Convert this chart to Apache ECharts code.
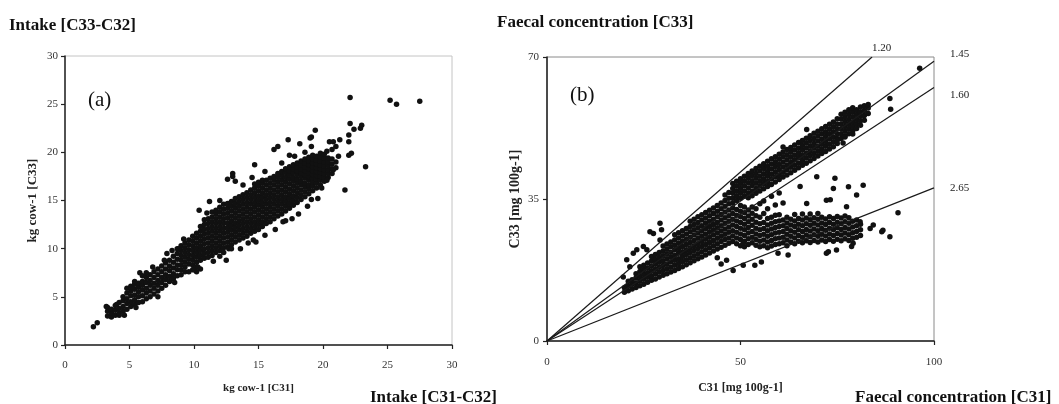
<!DOCTYPE html>
<html>
<head>
<meta charset="utf-8">
<script src="https://cdn.jsdelivr.net/npm/echarts@6/dist/echarts.min.js"></script>
<style>
html,body{margin:0;padding:0;background:#fff;}
#c{width:1059px;height:404px;}
</style>
</head>
<body>
<div id="c"></div>
<script>
// ---------- Panel (a): Intake, kg cow-1, C31 (x) vs C33 (y) ----------
const intakeTicks = [0, 5, 10, 15, 20, 25, 30];
// columns: [C31, [C33 values at that C31]]
const intakeCols = [
 [3.3,[3.0,3.5,3.9]],
 [3.6,[2.9,3.3,3.7]],
 [3.9,[3.1,3.6,4.1]],
 [4.2,[3.1,3.3,3.8,4.4]],
 [4.5,[3.5,4.0,4.6,5.0]],
 [4.8,[3.7,4.3,4.8,5.4,5.9]],
 [5.1,[4.0,4.5,5.1,5.6,6.1]],
 [5.4,[4.2,4.7,5.2,5.8,6.3]],
 [5.7,[4.4,5.0,5.5,6.0,6.4]],
 [6.0,[4.5,5.1,5.7,6.2,6.6]],
 [6.3,[4.8,5.4,5.9,6.5,7.0]],
 [6.6,[5.0,5.6,6.2,6.7,7.3]],
 [6.9,[5.3,5.9,6.4,7.0,7.6]],
 [7.2,[5.6,6.2,6.7,7.3,7.9]],
 [7.5,[5.9,6.5,7.0,7.6,8.2]],
 [7.8,[6.2,6.8,7.3,7.9,8.5]],
 [8.1,[6.6,7.1,7.7,8.2,8.8]],
 [8.4,[6.9,7.4,8.0,8.6,9.2]],
 [8.7,[7.2,7.8,8.3,8.9,9.5,10.0]],
 [9.0,[7.3,7.8,8.3,8.8,9.3,9.8,10.3]],
 [9.3,[7.6,8.1,8.6,9.1,9.6,10.1,10.6]],
 [9.6,[7.6,8.4,8.9,9.4,9.9,10.4,10.9]],
 [9.9,[7.8,8.3,8.8,9.3,9.8,10.3,10.8,11.3]],
 [10.2,[7.6,8.1,8.6,9.1,9.6,10.1,10.6,11.1,11.6]],
 [10.5,[7.9,8.8,9.3,9.8,10.3,10.8,11.3,11.8,12.3]],
 [10.8,[9.0,9.5,10.0,10.5,11.0,11.5,12.0,12.5,13.0]],
 [11.1,[9.1,9.6,10.1,10.6,11.1,11.6,12.1,12.6,13.1]],
 [11.4,[9.3,9.8,10.3,10.8,11.3,11.8,12.3,12.8,13.3,13.8]],
 [11.7,[9.6,10.1,10.6,11.1,11.6,12.1,12.6,13.1,13.6,14.0]],
 [12.0,[9.8,10.3,10.8,11.3,11.8,12.3,12.8,13.3,13.8,14.3]],
 [12.3,[9.6,10.1,10.6,11.1,11.6,12.1,12.6,13.1,13.6,14.1,14.6]],
 [12.6,[10.2,10.7,11.2,11.7,12.2,12.7,13.2,13.7,14.2,14.7]],
 [12.9,[10.4,10.9,11.4,11.9,12.4,12.9,13.4,13.9,14.4,14.9]],
 [13.2,[10.7,11.2,11.7,12.2,12.7,13.2,13.7,14.2,14.7,15.2]],
 [13.5,[10.9,11.4,11.9,12.4,12.9,13.4,13.9,14.4,14.9,15.4]],
 [13.8,[11.1,11.6,12.1,12.6,13.1,13.6,14.1,14.6,15.1,15.6]],
 [14.1,[11.3,11.8,12.3,12.8,13.3,13.8,14.3,14.8,15.3,15.8]],
 [14.4,[11.6,12.1,12.6,13.1,13.6,14.1,14.6,15.1,15.6,16.1]],
 [14.7,[11.8,12.3,12.8,13.3,13.8,14.3,14.8,15.3,15.8,16.3,16.7]],
 [15.0,[12.0,12.5,13.0,13.5,14.0,14.5,15.0,15.5,16.0,16.5,16.9]],
 [15.3,[12.3,12.8,13.3,13.8,14.3,14.8,15.3,15.8,16.3,16.8,17.1]],
 [15.6,[12.6,13.1,13.6,14.1,14.6,15.1,15.6,16.1,16.6,17.1]],
 [15.9,[12.8,13.3,13.8,14.3,14.8,15.3,15.8,16.3,16.8,17.3]],
 [16.2,[13.1,13.6,14.1,14.6,15.1,15.6,16.1,16.6,17.1,17.5]],
 [16.5,[13.4,13.9,14.4,14.9,15.4,15.9,16.4,16.9,17.4,17.8]],
 [16.8,[13.6,14.1,14.6,15.1,15.6,16.1,16.6,17.1,17.6,18.0]],
 [17.1,[13.9,14.4,14.9,15.4,15.9,16.4,16.9,17.4,17.9,18.3]],
 [17.4,[14.2,14.7,15.2,15.7,16.2,16.7,17.2,17.7,18.1,18.5]],
 [17.7,[14.5,15.0,15.5,16.0,16.5,17.0,17.4,17.9,18.3,18.7]],
 [18.0,[14.8,15.3,15.8,16.3,16.8,17.2,17.7,18.1,18.5,18.9]],
 [18.3,[15.1,15.6,16.1,16.6,17.0,17.5,17.9,18.3,18.7,19.1]],
 [18.6,[15.4,15.9,16.4,16.8,17.3,17.7,18.1,18.5,18.9,19.3]],
 [18.9,[15.7,16.2,16.6,17.1,17.5,17.9,18.3,18.7,19.1,19.5]],
 [19.2,[16.0,16.5,16.9,17.3,17.7,18.1,18.5,18.9,19.3,19.7]],
 [19.5,[16.3,16.8,17.2,17.6,18.0,18.4,18.8,19.2,19.6]],
 [19.8,[16.6,17.1,17.5,17.9,18.3,18.7,19.1,19.5,19.9]],
 [20.1,[17.0,17.4,17.8,18.2,18.6,19.0,19.4,19.8]],
 [20.4,[17.4,17.8,18.2,18.6,19.0,19.4]],
 [20.7,[17.8,18.3,18.8,19.3]],
 [21.0,[18.4,19.0]]
];
// isolated points
const intakeExtra = [
 [2.2,1.9],[2.5,2.3],[3.2,4.0],[4.0,4.2],[4.6,3.1],[5.5,3.9],[5.2,5.9],[5.4,6.6],[5.8,7.5],
 [6.0,7.2],[6.3,7.5],[7.2,5.0],[6.8,8.1],[7.7,8.8],[7.9,9.5],[8.5,6.5],[8.3,9.8],[8.8,10.0],
 [9.2,11.0],[10.0,7.8],[10.3,8.1],[10.4,14.0],[11.2,14.9],[11.0,13.7],[11.5,8.7],[12.0,9.2],
 [12.0,15.0],[12.5,8.8],[12.7,10.0],[12.9,10.0],[12.6,17.2],[13.0,17.8],[13.0,17.5],
 [13.2,17.0],[13.6,10.0],[13.8,16.6],[14.2,10.6],[14.5,17.4],[14.6,10.9],[14.8,10.7],
 [14.7,18.7],[15.5,11.4],[15.5,18.0],[16.3,12.0],[16.2,20.3],[16.5,20.6],[16.8,18.9],
 [16.9,12.8],[17.1,12.9],[17.3,21.3],[17.4,19.7],[17.6,13.1],[17.8,19.6],[18.1,13.6],
 [18.2,20.9],[18.6,20.0],[18.8,14.4],[19.0,21.5],[19.1,20.6],[19.1,21.6],[19.1,15.1],
 [19.4,22.3],[19.6,15.2],[19.9,16.3],[20.3,17.1],[20.3,20.1],[20.5,21.1],[20.7,20.3],
 [20.8,18.2],[20.8,21.1],[21.0,20.6],[21.2,19.6],[21.3,21.3],[21.7,16.1],[22.0,21.8],
 [22.0,21.1],[22.0,19.7],[22.2,19.9],[22.1,23.0],[22.4,22.4],[22.9,22.5],[23.0,22.8],
 [23.3,18.5],[22.1,25.7],[25.2,25.4],[25.7,25.0],[27.5,25.3]
];

// ---------- Panel (b): Faecal concentration, mg 100g-1, C31 (x) vs C33 (y) ----------
const faecalXTicks = [0, 50, 100];
const faecalYTicks = [0, 35, 70];
const ratioLines = [1.20, 1.45, 1.60, 2.65];
const faecalCols = [
 [20,[12.0,13.1]],
 [21,[12.4,13.6,14.7]],
 [22,[12.8,14.0,15.1]],
 [23,[13.2,14.3,15.5,16.6]],
 [24,[13.6,14.8,15.9,17.1]],
 [25,[14.0,15.2,16.4,17.6,18.7]],
 [26,[14.5,15.7,16.8,18.0,19.2]],
 [27,[15.0,16.1,17.3,18.5,19.7,20.8]],
 [28,[15.3,16.5,17.7,18.9,20.1,21.3]],
 [29,[15.8,17.0,18.2,19.4,20.6,21.8]],
 [30,[16.2,17.4,18.6,19.8,21.0,22.2,23.4]],
 [31,[16.6,17.8,19.0,20.3,21.5,22.7,23.9]],
 [32,[17.0,18.2,19.5,20.7,21.9,23.2,24.4]],
 [33,[17.4,18.7,19.9,21.1,22.4,23.6,24.9,26.2]],
 [34,[17.9,19.1,20.3,21.6,22.8,24.1,25.4,26.7]],
 [35,[18.3,19.6,20.8,22.0,23.3,24.6,25.9,27.2]],
 [36,[18.8,20.0,21.3,22.5,23.8,25.1,26.4,27.7]],
 [37,[19.3,20.5,21.8,23.0,24.3,25.6,26.9,28.2,29.5]],
 [38,[19.8,21.0,22.3,23.5,24.8,26.1,27.4,28.7,30.0]],
 [39,[20.3,21.5,22.8,24.0,25.3,26.6,27.9,29.2,30.6]],
 [40,[20.7,22.0,23.3,24.5,25.8,27.1,28.4,29.8,31.1]],
 [41,[21.2,22.5,23.8,25.1,26.4,27.7,29.0,30.3,31.7]],
 [42,[21.7,23.0,24.3,25.6,26.9,28.2,29.5,30.9,32.2]],
 [43,[22.2,23.5,24.8,26.1,27.4,28.7,30.0,31.4,32.8]],
 [44,[22.7,24.0,25.3,26.6,27.9,29.2,30.6,32.0,33.4]],
 [45,[23.1,24.5,25.8,27.1,28.4,29.8,31.2,32.6,34.0]],
 [46,[23.6,25.0,26.3,27.6,29.0,30.4,31.8,33.2,34.6,36.0]],
 [47,[24.1,25.4,26.8,28.1,29.5,30.9,32.3,33.8,35.2,36.6]],
 [48,[24.5,25.9,27.2,28.6,30.0,31.4,32.8,34.0,35.2,36.4,37.6,38.8]],
 [49,[24.0,25.4,26.8,28.2,29.6,31.0,32.4,34.6,35.8,37.0,38.2,39.4]],
 [50,[23.5,25.0,26.4,27.8,29.2,30.6,32.0,33.4,35.2,36.4,37.6,38.8,40.0]],
 [51,[23.2,24.6,26.0,27.4,28.8,30.2,31.6,33.0,35.7,36.9,38.2,39.4,40.6]],
 [52,[23.8,25.2,26.6,28.0,29.4,30.8,32.3,35.3,36.5,37.7,39.0,40.2,41.3]],
 [53,[24.2,25.6,27.0,28.5,30.0,31.5,33.0,35.8,37.0,38.3,39.5,40.8,41.9]],
 [54,[23.6,25.0,26.4,27.8,29.3,30.9,32.6,36.4,37.6,38.9,40.1,41.3,42.5]],
 [55,[23.2,24.6,26.0,27.4,28.9,30.5,33.8,37.0,38.2,39.4,40.6,41.9,43.1]],
 [56,[23.5,24.9,26.3,27.7,29.2,31.4,34.5,37.5,38.8,40.0,41.2,42.5,43.7]],
 [57,[23.0,24.4,25.8,27.2,28.6,30.2,32.6,38.1,39.3,40.6,41.8,43.0,44.3]],
 [58,[23.4,24.8,26.2,27.6,29.0,30.5,35.7,38.6,39.9,41.1,42.4,43.6,44.9]],
 [59,[23.8,25.2,26.6,28.0,29.4,31.0,33.5,39.2,40.5,41.7,43.0,44.2,45.4]],
 [60,[24.0,25.4,26.8,28.2,29.6,31.1,36.5,39.8,41.0,42.3,43.5,44.8,46.0]],
 [61,[24.2,25.6,27.0,28.4,29.8,34.0,40.4,41.6,42.9,44.1,45.4,46.6]],
 [62,[23.5,24.9,26.3,27.7,29.1,30.5,40.9,42.2,43.4,44.7,45.9,47.2]],
 [63,[24.4,25.8,27.2,28.6,30.0,41.5,42.8,44.0,45.3,46.5,47.7]],
 [64,[24.0,25.4,26.8,28.2,29.6,31.2,42.1,43.3,44.6,45.8,47.1,48.3]],
 [65,[24.6,26.0,27.4,28.8,30.2,42.7,43.9,45.2,46.4,47.6,48.9]],
 [66,[24.2,25.6,27.0,28.4,29.8,31.3,43.3,44.5,45.7,47.0,48.2,49.4]],
 [67,[24.7,26.1,27.5,28.9,30.3,43.8,45.1,46.3,47.6,48.8,50.0]],
 [68,[24.3,25.7,27.1,28.5,29.9,31.3,44.4,45.7,46.9,48.1,49.4,50.6]],
 [69,[24.8,26.2,27.6,29.0,30.4,45.0,46.2,47.5,48.7,49.9,51.2]],
 [70,[24.4,25.8,27.2,28.6,30.0,31.4,45.6,46.8,48.0,49.3,50.5,51.7]],
 [71,[24.9,26.3,27.7,29.1,30.5,46.2,47.4,48.6,49.8,51.1,52.3]],
 [72,[24.5,25.9,27.3,28.7,30.1,46.7,48.0,49.2,50.4,51.6,52.9]],
 [73,[25.0,26.4,27.8,29.2,30.6,47.3,48.5,49.8,51.0,52.2,53.4]],
 [74,[24.6,26.0,27.4,28.8,30.2,47.9,49.1,50.3,51.6,52.8,54.0]],
 [75,[25.1,26.5,27.9,29.3,30.7,48.7,49.9,51.1,52.3,53.5,54.8]],
 [76,[24.7,26.1,27.5,28.9,30.3,49.9,51.1,52.3,53.5,54.7,55.9]],
 [77,[25.2,26.6,28.0,29.4,30.8,50.5,51.7,52.9,54.1,55.3,56.4]],
 [78,[24.8,26.2,27.6,29.0,30.4,51.1,52.3,53.4,54.6,55.8,57.0]],
 [79,[25.3,26.7,28.1,29.5,51.8,52.9,54.0,55.2,56.4,57.5]],
 [80,[25.6,27.0,28.4,29.8,52.4,53.5,54.6,55.8,57.0]],
 [81,[26.0,27.4,28.8,53.2,54.3,55.4,56.5,57.7]],
 [82,[54.4,55.6,56.8,58.0]],
 [83,[56.1,57.4,58.3]]
];
const faecalExtra = [
 [20.6,20.0],[22.3,21.6],[23.2,22.5],[24.9,23.3],[26.6,26.9],[27.5,26.5],[29.2,29.0],
 [29.6,27.4],[29.2,24.9],[25.8,22.5],[21.4,18.3],[24.0,18.3],[19.7,15.8],[20.6,13.4],
 [44.0,20.5],[45.0,19.0],[46.4,19.9],[48.1,17.4],[50.7,18.7],[53.7,18.7],[55.4,19.5],
 [59.7,21.6],[62.3,21.2],[72.2,21.6],[74.8,22.4],[78.7,23.3],[50.7,24.1],[72.7,22.0],
 [79.1,24.1],[69.7,40.5],[74.4,40.1],[74.0,37.6],[77.9,38.0],[80.0,36.0],[81.7,38.4],
 [77.4,33.1],[72.2,34.7],[67.1,33.9],[65.4,38.1],[73.2,34.8],[80.9,29.4],[83.5,27.7],
 [86.5,26.9],[88.6,25.7],[90.7,31.6],[84.3,28.6],[86.8,27.3],[96.3,67.2],[88.6,59.8],
 [88.8,57.1],[67.1,52.1],[61.0,47.8],[75.0,49.5],[77.0,50.3],[79.0,51.0],[76.5,48.8]
];

function flatten(cols) {
  const out = [];
  cols.forEach(function (c) { c[1].forEach(function (y) { out.push([c[0], y]); }); });
  return out;
}

const SERIF = '"Liberation Serif","DejaVu Serif",serif';
const tickLabel = { fontFamily: SERIF, fontSize: 11, color: '#333' };
const nameStyle = { fontFamily: SERIF, fontSize: 12, fontWeight: 'bold', color: '#222' };
const axisLine = { show: true, lineStyle: { color: '#222', width: 1.5 } };
const axisTick = { show: true, length: 4, inside: false, lineStyle: { color: '#222', width: 1.2 } };
const titleStyle = { fontFamily: SERIF, fontSize: 17, fontWeight: 'bold', color: '#111' };

const chart = echarts.init(document.getElementById('c'), null, { renderer: 'canvas' });

const lineSeries = ratioLines.map(function (r, i) {
  const xe = Math.min(faecalXTicks[faecalXTicks.length - 1], faecalYTicks[faecalYTicks.length - 1] * r);
  const offs = [[-8, -9], [8, -7], [8, 8], [8, 0]];
  return {
    type: 'line', xAxisIndex: 1, yAxisIndex: 1,
    data: [[0, 0], [xe, xe / r]],
    symbol: 'none', silent: true,
    lineStyle: { color: '#1a1a1a', width: 1.2 },
    endLabel: { show: true, formatter: r.toFixed(2), offset: offs[i],
      fontFamily: SERIF, fontSize: 11, color: '#222' },
    z: 3
  };
});

chart.setOption({
  animation: false,
  backgroundColor: '#fff',
  title: [
    { text: 'Intake [C33-C32]', left: 9, top: 17, padding: 0, textStyle: titleStyle },
    { text: 'Intake [C31-C32]', left: 370, top: 389, padding: 0, textStyle: titleStyle },
    { text: 'Faecal concentration [C33]', left: 497, top: 14, padding: 0, textStyle: titleStyle },
    { text: 'Faecal concentration [C31]', left: 855, top: 389, padding: 0, textStyle: titleStyle },
    { text: '(a)', left: 88, top: 90, padding: 0, textStyle: { fontFamily: SERIF, fontSize: 21, fontWeight: 'normal', color: '#111' } },
    { text: '(b)', left: 570, top: 85, padding: 0, textStyle: { fontFamily: SERIF, fontSize: 21, fontWeight: 'normal', color: '#111' } }
  ],
  grid: [
    { left: 65, top: 56, width: 387, height: 289, show: true, borderColor: '#c4c4c4', borderWidth: 1, backgroundColor: 'transparent' },
    { left: 547, top: 57, width: 387, height: 284, show: true, borderColor: '#8a8a8a', borderWidth: 1, backgroundColor: 'transparent' }
  ],
  xAxis: [
    { type: 'value', gridIndex: 0, min: intakeTicks[0], max: intakeTicks[intakeTicks.length - 1],
      interval: intakeTicks[1] - intakeTicks[0],
      name: 'kg cow-1 [C31]', nameLocation: 'middle', nameGap: 38, nameTextStyle: Object.assign({}, nameStyle, { fontSize: 11 }),
      axisLine: axisLine, axisTick: axisTick, splitLine: { show: false },
      axisLabel: Object.assign({ margin: 15 }, tickLabel) },
    { type: 'value', gridIndex: 1, min: faecalXTicks[0], max: faecalXTicks[faecalXTicks.length - 1],
      interval: faecalXTicks[1] - faecalXTicks[0],
      name: 'C31 [mg 100g-1]', nameLocation: 'middle', nameGap: 41, nameTextStyle: nameStyle,
      axisLine: axisLine, axisTick: axisTick, splitLine: { show: false },
      axisLabel: Object.assign({ margin: 16 }, tickLabel) }
  ],
  yAxis: [
    { type: 'value', gridIndex: 0, min: intakeTicks[0], max: intakeTicks[intakeTicks.length - 1],
      interval: intakeTicks[1] - intakeTicks[0],
      name: 'kg cow-1 [C33]', nameLocation: 'middle', nameGap: 26, nameTextStyle: Object.assign({}, nameStyle, { fontSize: 13 }),
      axisLine: axisLine, axisTick: axisTick, splitLine: { show: false },
      axisLabel: Object.assign({ margin: 7 }, tickLabel) },
    { type: 'value', gridIndex: 1, min: faecalYTicks[0], max: faecalYTicks[faecalYTicks.length - 1],
      interval: faecalYTicks[1] - faecalYTicks[0],
      name: 'C33 [mg 100g-1]', nameLocation: 'middle', nameGap: 25, nameTextStyle: Object.assign({}, nameStyle, { fontSize: 14 }),
      axisLine: axisLine, axisTick: axisTick, splitLine: { show: false },
      axisLabel: Object.assign({ margin: 8 }, tickLabel) }
  ],
  series: [
    { type: 'scatter', xAxisIndex: 0, yAxisIndex: 0, silent: true,
      data: flatten(intakeCols).concat(intakeExtra),
      symbol: 'circle', symbolSize: 5.5, itemStyle: { color: '#111', opacity: 1 }, z: 2 },
    { type: 'scatter', xAxisIndex: 1, yAxisIndex: 1, silent: true,
      data: flatten(faecalCols).concat(faecalExtra),
      symbol: 'circle', symbolSize: 5.5, itemStyle: { color: '#111', opacity: 1 }, z: 2 }
  ].concat(lineSeries)
});
</script>
</body>
</html>
